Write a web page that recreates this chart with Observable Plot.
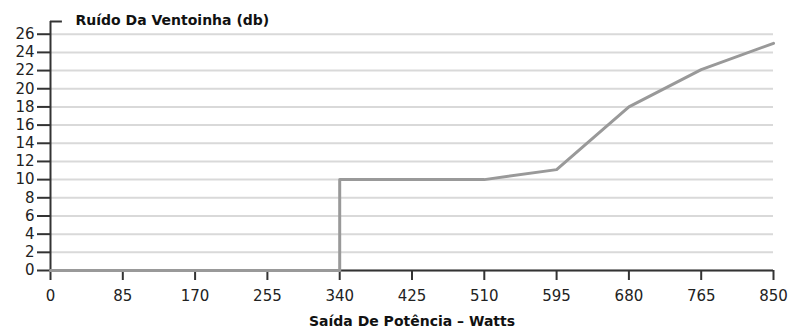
<!DOCTYPE html>
<html>
<head>
<meta charset="utf-8">
<script src="https://cdn.jsdelivr.net/npm/d3@7"></script>
<script src="https://cdn.jsdelivr.net/npm/@observablehq/plot@0.6"></script>
<style>
  html, body { margin: 0; padding: 0; background: #fff; }
  #chart svg { display: block; }
</style>
</head>
<body>
<div id="chart"></div>
<script>
const power = [0, 340, 340, 510, 595, 680, 765, 850];
const noise = [0, 0, 10, 10, 11.1, 18, 22.1, 25];
const xTicks = [0, 85, 170, 255, 340, 425, 510, 595, 680, 765, 850];
const yTicks = [0, 2, 4, 6, 8, 10, 12, 14, 16, 18, 20, 22, 24, 26];
const yTitle = "Ruído Da Ventoinha (db)";
const xTitle = "Saída De Potência – Watts";

const data = power.map((p, i) => ({power: p, noise: noise[i]}));
const axisColor = "#333";
const yTop = 27.4;

const chart = Plot.plot({
  width: 790,
  height: 333,
  marginLeft: 50,
  marginRight: 17,
  marginTop: 21,
  marginBottom: 63,
  style: {fontFamily: "'DejaVu Sans', sans-serif", fontSize: "14px", color: "#222", background: "#fff"},
  x: {domain: [0, 850]},
  y: {domain: [0, yTop]},
  marks: [
    Plot.gridY(yTicks, {stroke: "#d9d9d9", strokeWidth: 2, strokeOpacity: 1}),
    Plot.axisY(yTicks, {tickSize: 13, tickPadding: 3, stroke: axisColor, strokeWidth: 2, fill: "#222", label: null}),
    Plot.axisX(xTicks, {tickSize: 10, tickPadding: 10, stroke: axisColor, strokeWidth: 2, fill: "#222", label: null}),
    Plot.ruleY([0], {stroke: axisColor, strokeWidth: 2}),
    Plot.ruleX([0], {y1: () => 0, y2: () => yTop, stroke: axisColor, strokeWidth: 2}),
    Plot.ruleY([yTop], {x1: 0, x2: 14, stroke: axisColor, strokeWidth: 2}),
    Plot.line(data, {x: "power", y: "noise", stroke: "#999", strokeWidth: 3, curve: "linear"}),
    Plot.text([yTitle], {frameAnchor: "top-left", dx: 25, dy: -6, fontWeight: "bold", fill: "#111", textAnchor: "start", ariaLabel: "ytitle"}),
    Plot.text([xTitle], {frameAnchor: "bottom", dy: 55, fontWeight: "bold", fill: "#111", ariaLabel: "xtitle"})
  ]
});
const sel = d3.select(chart);
sel.selectAll("g").filter(function() {
  const a = this.getAttribute("aria-label") || "";
  return a.includes("tick label");
}).selectAll("text").style("font-size", "15px");
sel.selectAll('g[aria-label="ytitle"] text').style("font-size", "12.2px");
sel.selectAll('g[aria-label="xtitle"] text').style("font-size", "12.9px");
document.getElementById("chart").appendChild(chart);
</script>
</body>
</html>
